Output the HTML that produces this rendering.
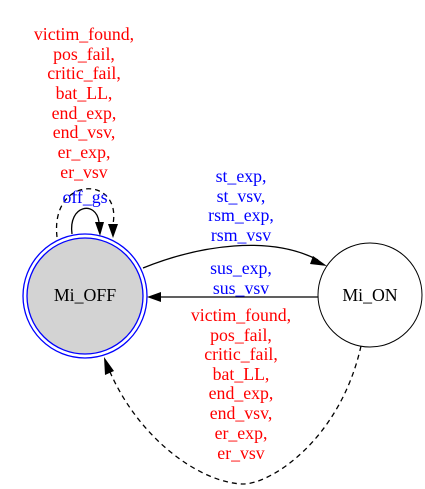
<!DOCTYPE html>
<html><head><meta charset="utf-8"><style>
html,body{margin:0;padding:0;background:#fff;}
svg{display:block;}
text{font-family:"Liberation Serif",serif;font-size:17.8px;text-anchor:middle;}
.r{fill:#ff0000}.b{fill:#0000ff}
</style></head><body>
<svg width="425" height="489" viewBox="0 0 425 489">
<circle cx="85" cy="296" r="62" fill="none" stroke="#0000ff" stroke-width="1.3"/>
<circle cx="85" cy="296" r="58" fill="#d3d3d3" stroke="#0000ff" stroke-width="1.3"/>
<text x="85" y="301">Mi_OFF</text>
<circle cx="370" cy="295" r="52" fill="#fff" stroke="#000"/>
<text x="370" y="301">Mi_ON</text>
<path d="M72,234 C68,205 96,200 99,222" fill="none" stroke="#000" stroke-width="1.3"/>
<path d="M95,222 L100,236 L104,222 Z" fill="#000"/>
<path d="M57,237 C50,175 122,175 113,224" fill="none" stroke="#000" stroke-width="1.3" stroke-dasharray="5,4"/>
<path d="M108,224 L113,238 L118,224 Z" fill="#000"/>
<path d="M143,268 C200,245 270,235 318,260" fill="none" stroke="#000" stroke-width="1.3"/>
<path d="M313,256 L327,266 L310,264 Z" fill="#000"/>
<path d="M318,297 L160,297" fill="none" stroke="#000" stroke-width="1.3"/>
<path d="M161,292 L147,297 L161,302 Z" fill="#000"/>
<path d="M361,346 C340,440 270,485 242,484 C200,482 140,440 110,372" fill="none" stroke="#000" stroke-width="1.3" stroke-dasharray="5,4"/>
<path d="M105,375 L104,357 L114,371 Z" fill="#000"/>
<g class="r">
<text x="84" y="40">victim_found,</text><text x="84" y="60">pos_fail,</text><text x="84" y="79">critic_fail,</text><text x="84" y="99">bat_LL,</text><text x="84" y="119">end_exp,</text><text x="84" y="138">end_vsv,</text><text x="84" y="158">er_exp,</text><text x="84" y="178">er_vsv</text>
</g>
<text class="b" x="85" y="203">off_gs</text>
<g class="b">
<text x="241" y="182">st_exp,</text><text x="241" y="202">st_vsv,</text><text x="241" y="221">rsm_exp,</text><text x="241" y="241">rsm_vsv</text>
<text x="241" y="274">sus_exp,</text><text x="241" y="294">sus_vsv</text>
</g>
<g class="r">
<text x="241" y="321">victim_found,</text><text x="241" y="341">pos_fail,</text><text x="241" y="360">critic_fail,</text><text x="241" y="380">bat_LL,</text><text x="241" y="399">end_exp,</text><text x="241" y="419">end_vsv,</text><text x="241" y="439">er_exp,</text><text x="241" y="459">er_vsv</text>
</g>
</svg>
</body></html>
